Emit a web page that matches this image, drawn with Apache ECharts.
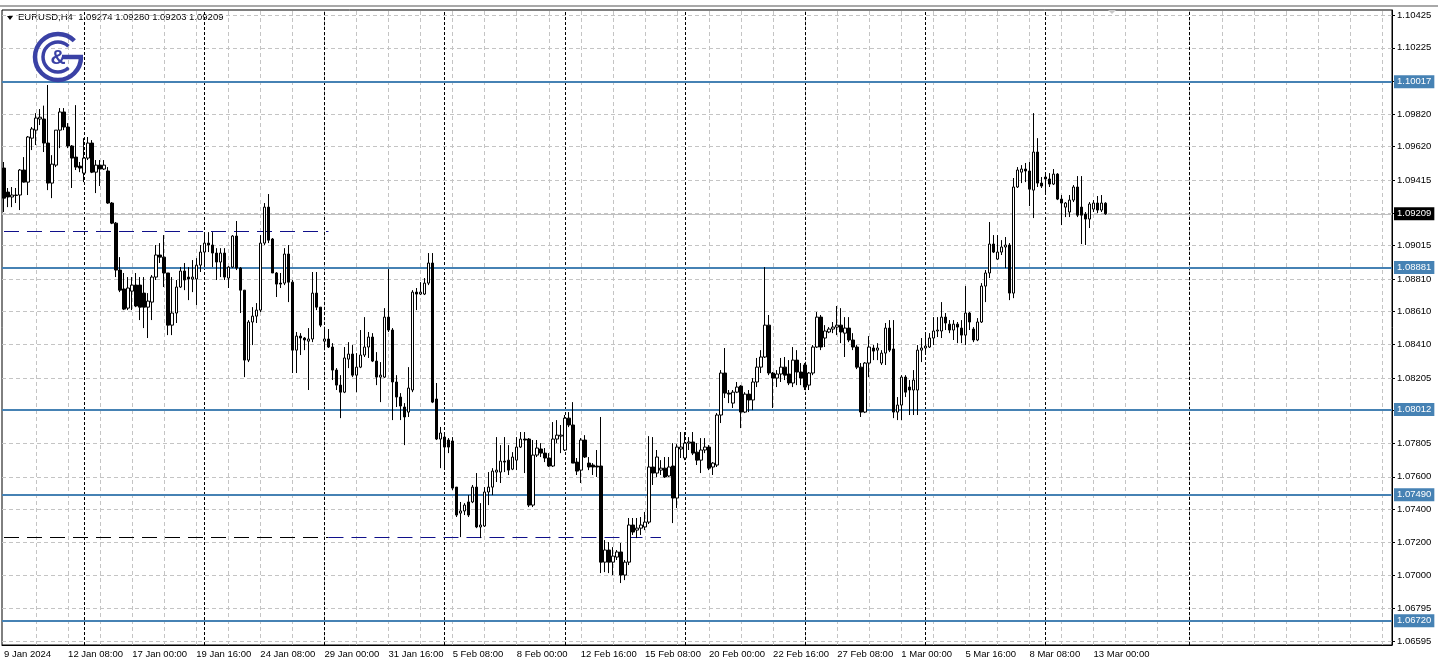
<!DOCTYPE html>
<html>
<head>
<meta charset="utf-8">
<script src="https://cdn.jsdelivr.net/npm/echarts@6/dist/echarts.min.js"></script>
<style>
html,body{margin:0;padding:0;background:#fff;}
#c{width:1438px;height:671px;}
</style>
</head>
<body>
<div id="c"></div>
<script>
// ---- data (EURUSD H4, bars from 9 Jan 2024 16:00) ----
const opens = [1.09489,1.09342,1.09312,1.09321,1.09324,1.09477,1.09403,1.09672,1.09721,1.09789,
1.09789,1.09642,1.09397,1.09507,1.09721,1.09832,1.09740,1.09624,1.09556,1.09501,
1.09458,1.09550,1.09642,1.09464,1.09507,1.09483,1.09471,1.09275,1.09152,1.08865,
1.08749,1.08632,1.08736,1.08773,1.08773,1.08724,1.08638,1.08669,1.08822,1.08957,
1.08944,1.08847,1.08528,1.08602,1.08761,1.08859,1.08822,1.08810,1.08810,1.08895,
1.08975,1.09030,1.09018,1.08969,1.08914,1.08969,1.08816,1.08883,1.09073,1.08877,
1.08742,1.08314,1.08547,1.08583,1.08620,1.09030,1.09250,1.09055,1.08847,1.08785,
1.08785,1.08963,1.08791,1.08375,1.08461,1.08449,1.08430,1.08443,1.08724,1.08638,
1.08430,1.08443,1.08394,1.08253,1.08161,1.08118,1.08320,1.08351,1.08222,1.08271,
1.08345,1.08394,1.08455,1.08308,1.08210,1.08210,1.08577,1.08498,1.08180,1.08088,
1.08027,1.07996,1.08131,1.08730,1.08718,1.08718,1.08785,1.08908,1.08076,1.07831,
1.07843,1.07825,1.07819,1.07537,1.07378,1.07391,1.07446,1.07446,1.07537,1.07293,
1.07299,1.07507,1.07537,1.07629,1.07629,1.07696,1.07702,1.07647,1.07702,1.07782,
1.07831,1.07831,1.07427,1.07733,1.07770,1.07745,1.07715,1.07666,1.07831,1.07849,
1.07764,1.07959,1.07917,1.07690,1.07641,1.07825,1.07684,1.07672,1.07666,1.07666,
1.07078,1.07152,1.07078,1.07109,1.07140,1.06999,1.07078,1.07305,1.07274,1.07286,
1.07293,1.07323,1.07660,1.07623,1.07641,1.07653,1.07605,1.07666,1.07470,1.07770,
1.07715,1.07806,1.07813,1.07751,1.07702,1.07764,1.07782,1.07660,1.07672,1.07978,
1.08235,1.08112,1.08051,1.08118,1.08155,1.07996,1.08106,1.08070,1.08180,1.08271,
1.08333,1.08528,1.08235,1.08204,1.08229,1.08271,1.08229,1.08174,1.08314,1.08241,
1.08284,1.08161,1.08235,1.08394,1.08577,1.08449,1.08486,1.08504,1.08516,1.08528,
1.08479,1.08510,1.08437,1.08394,1.08271,1.07996,1.08296,1.08388,1.08375,1.08296,
1.08357,1.08510,1.08382,1.07996,1.08039,1.08210,1.08149,1.08131,1.08131,1.08375,
1.08388,1.08394,1.08449,1.08492,1.08492,1.08577,1.08534,1.08498,1.08534,1.08510,
1.08467,1.08602,1.08504,1.08437,1.08547,1.08767,1.08847,1.09024,1.08932,1.08975,
1.09006,1.09018,1.08724,1.09373,1.09464,1.09483,1.09471,1.09354,1.09587,1.09397,
1.09434,1.09422,1.09391,1.09452,1.09299,1.09250,1.09220,1.09293,1.09373,1.09250,
1.09208,1.09177,1.09238,1.09275,1.09232,1.09274];
const closes = [1.09305,1.09312,1.09324,1.09324,1.09477,1.09403,1.09679,1.09728,1.09795,1.09800,
1.09642,1.09397,1.09513,1.09721,1.09832,1.09740,1.09624,1.09550,1.09495,1.09489,
1.09550,1.09642,1.09464,1.09507,1.09483,1.09507,1.09275,1.09152,1.08865,1.08742,
1.08626,1.08755,1.08773,1.08645,1.08638,1.08638,1.08675,1.08822,1.08957,1.08944,
1.08847,1.08528,1.08602,1.08761,1.08859,1.08804,1.08810,1.08822,1.08895,1.08975,
1.09030,1.09018,1.08969,1.08914,1.08969,1.08822,1.08883,1.09073,1.08877,1.08742,
1.08314,1.08547,1.08583,1.08620,1.09030,1.09250,1.09048,1.08847,1.08779,1.08779,
1.08963,1.08791,1.08375,1.08461,1.08449,1.08437,1.08443,1.08724,1.08638,1.08528,
1.08443,1.08394,1.08253,1.08161,1.08118,1.08327,1.08351,1.08222,1.08271,1.08345,
1.08394,1.08455,1.08308,1.08210,1.08222,1.08577,1.08498,1.08180,1.08088,1.08033,
1.07966,1.08143,1.08730,1.08718,1.08730,1.08785,1.08908,1.08057,1.07831,1.07868,
1.07782,1.07782,1.07531,1.07366,1.07391,1.07427,1.07366,1.07537,1.07293,1.07305,
1.07507,1.07537,1.07635,1.07641,1.07696,1.07690,1.07641,1.07721,1.07782,1.07831,
1.07825,1.07427,1.07733,1.07776,1.07745,1.07715,1.07666,1.07831,1.07855,1.07855,
1.07959,1.07917,1.07684,1.07635,1.07825,1.07721,1.07660,1.07660,1.07660,1.07078,
1.07152,1.07078,1.07115,1.07140,1.06999,1.07078,1.07305,1.07262,1.07286,1.07305,
1.07323,1.07660,1.07623,1.07721,1.07653,1.07599,1.07660,1.07470,1.07782,1.07782,
1.07806,1.07813,1.07745,1.07702,1.07764,1.07782,1.07653,1.07684,1.07978,1.08235,
1.08112,1.08106,1.08118,1.08149,1.07996,1.08106,1.08070,1.08180,1.08271,1.08333,
1.08528,1.08235,1.08204,1.08229,1.08271,1.08222,1.08174,1.08314,1.08241,1.08204,
1.08149,1.08235,1.08394,1.08577,1.08394,1.08492,1.08504,1.08516,1.08528,1.08486,
1.08510,1.08437,1.08394,1.08271,1.07996,1.08296,1.08394,1.08369,1.08388,1.08357,
1.08510,1.08375,1.07996,1.08039,1.08210,1.08118,1.08131,1.08192,1.08375,1.08388,
1.08400,1.08449,1.08492,1.08498,1.08577,1.08541,1.08498,1.08534,1.08516,1.08467,
1.08602,1.08547,1.08437,1.08547,1.08767,1.08847,1.09024,1.08975,1.08975,1.09006,
1.09018,1.08724,1.09373,1.09477,1.09483,1.09471,1.09360,1.09587,1.09397,1.09379,
1.09422,1.09391,1.09452,1.09299,1.09275,1.09275,1.09293,1.09373,1.09201,1.09201,
1.09177,1.09269,1.09275,1.09232,1.09275,1.09209];
const highs = [1.09526,1.09367,1.09373,1.09367,1.09483,1.09556,1.09685,1.09740,1.09825,1.09850,
1.09871,1.09997,1.09568,1.09721,1.09856,1.09856,1.09764,1.09630,1.09874,1.09526,
1.09672,1.09679,1.09660,1.09538,1.09538,1.09538,1.09495,1.09281,1.09159,1.08944,
1.08847,1.08822,1.08822,1.08847,1.08822,1.08822,1.08724,1.08834,1.09018,1.09030,
1.09079,1.08847,1.08822,1.08804,1.08883,1.08908,1.08883,1.08926,1.08938,1.09018,
1.09097,1.09097,1.09097,1.08999,1.08999,1.08999,1.08889,1.09079,1.09165,1.08883,
1.08742,1.08559,1.08638,1.08663,1.09079,1.09275,1.09330,1.09061,1.08853,1.08847,
1.08999,1.09018,1.08804,1.08486,1.08479,1.08455,1.08510,1.08853,1.08853,1.08638,
1.08510,1.08504,1.08418,1.08265,1.08222,1.08394,1.08424,1.08406,1.08357,1.08498,
1.08577,1.08486,1.08479,1.08363,1.08302,1.08632,1.08871,1.08510,1.08222,1.08112,
1.08051,1.08271,1.08742,1.08755,1.08791,1.08816,1.08969,1.08969,1.08174,1.07905,
1.07855,1.07837,1.07843,1.07537,1.07446,1.07439,1.07488,1.07550,1.07623,1.07439,
1.07537,1.07629,1.07653,1.07843,1.07794,1.07843,1.07794,1.07751,1.07843,1.07874,
1.07874,1.07837,1.07825,1.07825,1.07806,1.07776,1.07745,1.07935,1.07947,1.07917,
1.07978,1.07996,1.08057,1.07715,1.07837,1.07855,1.07721,1.07684,1.07764,1.07966,
1.07213,1.07201,1.07170,1.07152,1.07195,1.07091,1.07348,1.07348,1.07348,1.07354,
1.07385,1.07849,1.07843,1.07764,1.07702,1.07721,1.07721,1.07806,1.07800,1.07874,
1.07874,1.07843,1.07874,1.07806,1.07837,1.07837,1.07794,1.07690,1.07990,1.08253,
1.08388,1.08131,1.08131,1.08180,1.08161,1.08118,1.08131,1.08204,1.08327,1.08375,
1.08883,1.08590,1.08241,1.08253,1.08327,1.08333,1.08314,1.08394,1.08375,1.08296,
1.08296,1.08241,1.08406,1.08608,1.08590,1.08528,1.08516,1.08547,1.08645,1.08632,
1.08577,1.08577,1.08479,1.08406,1.08296,1.08302,1.08461,1.08406,1.08418,1.08375,
1.08541,1.08559,1.08559,1.08088,1.08222,1.08222,1.08192,1.08253,1.08406,1.08449,
1.08479,1.08479,1.08577,1.08577,1.08669,1.08602,1.08559,1.08559,1.08547,1.08559,
1.08767,1.08608,1.08516,1.08571,1.08785,1.08865,1.09159,1.09079,1.09079,1.09048,
1.09067,1.09030,1.09428,1.09495,1.09507,1.09520,1.09526,1.09825,1.09672,1.09434,
1.09464,1.09458,1.09483,1.09458,1.09324,1.09281,1.09324,1.09385,1.09440,1.09440,
1.09220,1.09281,1.09293,1.09318,1.09324,1.09280];
const lows = [1.09220,1.09250,1.09250,1.09275,1.09232,1.09400,1.09324,1.09599,1.09630,1.09752,
1.09587,1.09354,1.09305,1.09495,1.09611,1.09721,1.09611,1.09367,1.09477,1.09464,
1.09403,1.09538,1.09458,1.09336,1.09379,1.09477,1.09270,1.09146,1.08822,1.08730,
1.08620,1.08620,1.08620,1.08638,1.08559,1.08510,1.08449,1.08559,1.08804,1.08908,
1.08761,1.08467,1.08467,1.08541,1.08755,1.08742,1.08681,1.08730,1.08651,1.08853,
1.08883,1.08975,1.08883,1.08804,1.08822,1.08804,1.08755,1.08877,1.08865,1.08602,
1.08210,1.08302,1.08406,1.08541,1.08608,1.09018,1.09030,1.08847,1.08700,1.08755,
1.08773,1.08669,1.08235,1.08235,1.08345,1.08375,1.08131,1.08424,1.08620,1.08516,
1.08394,1.08388,1.08192,1.08131,1.07959,1.08112,1.08265,1.08210,1.08118,1.08265,
1.08333,1.08327,1.08302,1.08161,1.08057,1.08204,1.08486,1.07947,1.08027,1.07947,
1.07794,1.07966,1.08118,1.08620,1.08712,1.08712,1.08773,1.08051,1.07825,1.07653,
1.07653,1.07745,1.07519,1.07354,1.07231,1.07366,1.07354,1.07439,1.07286,1.07225,
1.07293,1.07427,1.07488,1.07568,1.07562,1.07629,1.07611,1.07641,1.07641,1.07776,
1.07623,1.07415,1.07415,1.07721,1.07721,1.07690,1.07660,1.07660,1.07806,1.07745,
1.07758,1.07904,1.07684,1.07611,1.07562,1.07715,1.07641,1.07611,1.07599,1.07011,
1.07017,1.07011,1.06999,1.07091,1.06950,1.06968,1.07060,1.07244,1.07225,1.07244,
1.07274,1.07311,1.07550,1.07599,1.07611,1.07593,1.07599,1.07317,1.07409,1.07715,
1.07702,1.07764,1.07733,1.07672,1.07623,1.07745,1.07641,1.07611,1.07660,1.07929,
1.08082,1.08051,1.08021,1.08112,1.07898,1.07990,1.07996,1.08008,1.08149,1.08235,
1.08327,1.08222,1.08021,1.08149,1.08180,1.08192,1.08161,1.08149,1.08161,1.08161,
1.08131,1.08131,1.08222,1.08388,1.08375,1.08394,1.08479,1.08479,1.08467,1.08418,
1.08333,1.08424,1.08375,1.08259,1.07966,1.07990,1.08210,1.08314,1.08314,1.08284,
1.08284,1.08363,1.07959,1.07947,1.07947,1.08088,1.07978,1.07978,1.07978,1.08302,
1.08357,1.08388,1.08406,1.08455,1.08449,1.08498,1.08479,1.08437,1.08418,1.08418,
1.08406,1.08498,1.08424,1.08430,1.08541,1.08669,1.08816,1.08969,1.08926,1.08957,
1.08877,1.08681,1.08693,1.09367,1.09397,1.09403,1.09256,1.09183,1.09373,1.09367,
1.09336,1.09373,1.09385,1.09293,1.09140,1.09189,1.09189,1.09281,1.09189,1.09024,
1.09018,1.09122,1.09220,1.09214,1.09220,1.09203];

// x-axis tick labels, one every 16 bars
const dateLabels = ['9 Jan 2024','12 Jan 08:00','17 Jan 00:00','19 Jan 16:00','24 Jan 08:00','29 Jan 00:00',
  '31 Jan 16:00','5 Feb 08:00','8 Feb 00:00','12 Feb 16:00','15 Feb 08:00','20 Feb 00:00',
  '22 Feb 16:00','27 Feb 08:00','1 Mar 00:00','5 Mar 16:00','8 Mar 08:00','13 Mar 00:00'];
// price-scale tick labels
const yLabelValues = [1.10425,1.10225,1.09820,1.09620,1.09415,1.09015,1.08810,1.08610,1.08410,1.08205,
  1.07805,1.07600,1.07400,1.07200,1.07000,1.06795,1.06595];
const gridPrices = [1.10425,1.10225,1.10020,1.09820,1.09620,1.09415,1.09210,1.09015,1.08810,1.08610,
  1.08410,1.08205,1.08010,1.07805,1.07600,1.07400,1.07200,1.07000,1.06795,1.06595];
// horizontal levels and current price
const levels = [1.10017,1.08881,1.08012,1.07490,1.06720];
const currentPrice = 1.09209;
const dashedUpper = 1.09100;
const dashedLower = 1.07231;
const separatorBars = [20,50,80,110,140,170,200,230,260,296];
const headerText = 'EURUSD,H4  1.09274 1.09280 1.09203 1.09209';

const TOTAL_SLOTS = 347;
const FONT = 'Liberation Sans, Arial, sans-serif';
const FS = 9.5;
const Y_MIN = 1.06571, Y_MAX = 1.10456;

const categories = Array.from({length: TOTAL_SLOTS}, (_, i) => 'b' + i);
const candleData = opens.map((o, i) => [o, closes[i], lows[i], highs[i]]);
const isLabelBar = (i) => i % 16 === 0 && i / 16 < dateLabels.length;

const gridVertical = [];
for (let i = 8; i < TOTAL_SLOTS; i += 8) gridVertical.push({xAxis: 'b' + i});

function helper(z, lines, lineStyle, label) {
  return {
    type: 'line', data: [], z: z, silent: true,
    markLine: {
      silent: true, animation: false, z: z, symbol: ['none', 'none'], precision: 5,
      lineStyle: lineStyle,
      label: label || {show: false},
      emphasis: {disabled: true},
      data: lines
    }
  };
}

const chart = echarts.init(document.getElementById('c'));
chart.setOption({
  animation: false,
  backgroundColor: '#fff',
  grid: {left: 2, right: 46, top: 10, bottom: 26, show: true, borderColor: '#000', borderWidth: 1, backgroundColor: '#fff'},
  xAxis: {
    type: 'category', data: categories, boundaryGap: true,
    axisLine: {onZero: false, lineStyle: {color: '#000', width: 1}},
    axisTick: {alignWithLabel: true, interval: (i) => isLabelBar(i), length: 3, lineStyle: {color: '#000'}},
    axisLabel: {interval: (i) => isLabelBar(i), formatter: (v, i) => dateLabels[i / 16] || '',
      align: 'left', color: '#000', fontSize: FS, fontFamily: FONT, margin: 4},
    splitLine: {show: false}
  },
  yAxis: {
    type: 'value', position: 'right', min: Y_MIN, max: Y_MAX, scale: true,
    axisLine: {show: true, onZero: false, lineStyle: {color: '#000'}},
    axisTick: {show: true, customValues: gridPrices, length: 3, lineStyle: {color: '#000'}},
    axisLabel: {customValues: yLabelValues, formatter: (v) => v.toFixed(5), color: '#000', fontSize: FS, fontFamily: FONT, margin: 5},
    splitLine: {show: false}
  },
  series: [
    helper(1, gridPrices.map(v => ({yAxis: v})), {color: '#c4c4c4', width: 1, type: [4, 3]}),
    helper(1, gridVertical, {color: '#c4c4c4', width: 1, type: [4, 3]}),
    helper(1, separatorBars.map(b => ({xAxis: 'b' + b})), {color: '#000', width: 1, type: [3, 2]}),
    helper(1, [{yAxis: currentPrice}], {color: '#c0c0c0', width: 1, type: 'solid'},
      {show: true, position: 'end', distance: 2, formatter: (p) => Number(p.value).toFixed(5),
       backgroundColor: '#000', color: '#fff', fontSize: FS, fontFamily: FONT, padding: [2, 3, 1, 3]}),
    helper(2, levels.map(v => ({yAxis: v})), {color: '#4682b4', width: 2, type: 'solid'},
      {show: true, position: 'end', distance: 2, formatter: (p) => Number(p.value).toFixed(5),
       backgroundColor: '#4682b4', color: '#fff', fontSize: FS, fontFamily: FONT, padding: [2, 3, 1, 3]}),
    helper(2, [[{coord: ['b0', dashedUpper]}, {coord: ['b81', dashedUpper]}]], {color: '#10108a', width: 1, type: [15, 8]}),
    helper(2, [[{coord: ['b0', dashedLower]}, {coord: ['b81', dashedLower]}]], {color: '#000', width: 1, type: [15, 8]}),
    helper(2, [[{coord: ['b81', dashedLower]}, {coord: ['b164', dashedLower]}]], {color: '#10108a', width: 1, type: [15, 8]}),
    {
      type: 'candlestick', z: 3, data: candleData, barWidth: 3,
      itemStyle: {color: '#fff', color0: '#000', borderColor: '#000', borderColor0: '#000', borderWidth: 1},
      emphasis: {disabled: true}
    }
  ],
  graphic: [
    {type: 'rect', shape: {x: 0, y: 5, width: 1438, height: 2}, style: {fill: '#a8a8a8'}, silent: true},
    {type: 'polygon', shape: {points: [[7, 16], [13, 16], [10, 20]]}, style: {fill: '#000'}, silent: true},
    {type: 'text', x: 18, y: 12, style: {text: headerText, font: FS + 'px ' + FONT, fill: '#000'}, silent: true},
    {type: 'polygon', shape: {points: [[1108, 10], [1116, 10], [1112, 14]]}, style: {fill: '#c8c8c8'}, silent: true},
    {type: 'arc', shape: {cx: 58, cy: 57, r: 23, startAngle: 0, endAngle: 5.5, clockwise: true}, style: {stroke: '#3a41a5', lineWidth: 4.5, fill: null}, silent: true, z: 10},
    {type: 'line', shape: {x1: 62, y1: 57, x2: 83, y2: 57}, style: {stroke: '#3a41a5', lineWidth: 4.5}, silent: true, z: 10},
    {type: 'arc', shape: {cx: 58, cy: 57, r: 15, startAngle: 0.8, endAngle: 5.48, clockwise: true}, style: {stroke: '#3a41a5', lineWidth: 3.5, fill: null}, silent: true, z: 10},
    {type: 'text', x: 58, y: 58, style: {text: '&', font: 'bold 21px ' + FONT, fill: '#3a41a5', align: 'center', verticalAlign: 'middle'}, silent: true, z: 10}
  ]
});
</script>
</body>
</html>
